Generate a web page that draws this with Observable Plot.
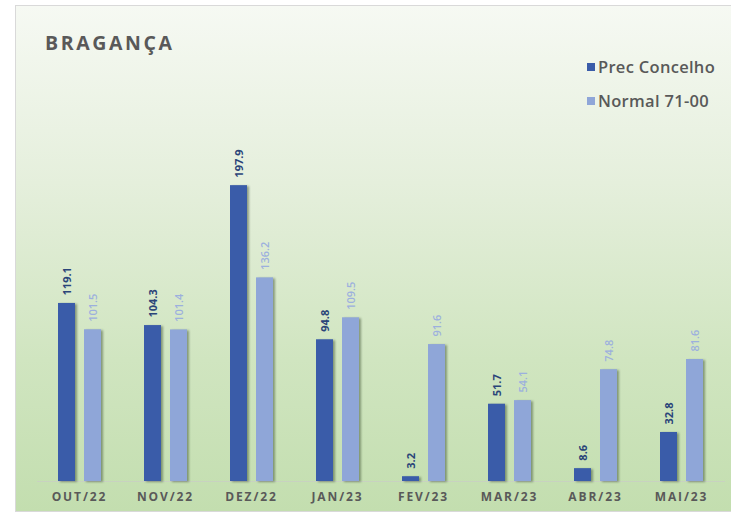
<!DOCTYPE html>
<html>
<head>
<meta charset="utf-8">
<script src="https://cdn.jsdelivr.net/npm/d3@7"></script>
<script src="https://cdn.jsdelivr.net/npm/@observablehq/plot@0.6"></script>
<style>
  body { margin: 0; background: #fff; }
  #wrap { position: relative; width: 731px; height: 514px; overflow: hidden; font-family: "Open Sans", sans-serif; }
  #frame { position: absolute; left: 15px; top: 5px; width: 725px; height: 505px; border: 1px solid #d9d9d9;
    background: linear-gradient(to bottom, #f6f9f3 0%, #e5efdc 35%, #d0e5c0 70%, #c3deaf 100%); }
  #chart { position: absolute; left: 0; top: 0; }
  #chart svg { background: transparent !important; }
  #title { position: absolute; left: 45px; top: 30px; font-size: 19.5px; font-weight: 700; color: #595959; letter-spacing: 2.6px; line-height: 1.3; }
  .leg { position: absolute; left: 587px; font-size: 16.5px; font-weight: 600; color: #595959; display: flex; align-items: center; letter-spacing: 0.3px; line-height: 1.3; }
  .leg span.sw { display: inline-block; width: 8px; height: 8px; margin-right: 3px; }
  g[aria-label="bar"] rect { filter: drop-shadow(2px 1px 1.2px rgba(40,60,30,0.45)); }
  g[aria-label="fx-axis tick label"] text { letter-spacing: 1.9px; }
</style>
</head>
<body>
<div id="wrap">
  <div id="frame"></div>
  <div id="chart"></div>
  <div id="title"></div>
  <div id="legend"></div>
</div>
<script>
const title = "BRAGANÇA";
const months = ["OUT/22","NOV/22","DEZ/22","JAN/23","FEV/23","MAR/23","ABR/23","MAI/23"];
const seriesNames = ["Prec Concelho", "Normal 71-00"];
const prec = [119.1, 104.3, 197.9, 94.8, 3.2, 51.7, 8.6, 32.8];
const normal = [101.5, 101.4, 136.2, 109.5, 91.6, 54.1, 74.8, 81.6];
const barColors = ["#3a5ca9", "#8fa6d8"];
const labelColors = ["#2a4479", "#9cb0de"];

const rows = [];
months.forEach((m, i) => {
  rows.push({month: m, series: seriesNames[0], value: prec[i]});
  rows.push({month: m, series: seriesNames[1], value: normal[i]});
});

document.getElementById("title").textContent = title;
const legend = document.getElementById("legend");
seriesNames.forEach((s, i) => {
  const d = document.createElement("div");
  d.className = "leg";
  d.style.top = (56 + i * 34) + "px";
  d.innerHTML = `<span class="sw" style="background:${barColors[i]}"></span>${s}`;
  legend.appendChild(d);
});

const chart = Plot.plot({
  width: 731,
  height: 514,
  marginLeft: 34,
  marginRight: 4,
  marginTop: 182,
  marginBottom: 33,
  style: {fontFamily: "Open Sans, sans-serif", background: "transparent", overflow: "visible"},
  fx: {domain: months, padding: 0, label: null, axis: null},
  x: {domain: seriesNames, paddingInner: 1/3, paddingOuter: 0.77, axis: null},
  y: {domain: [0, 200], axis: null},
  color: {domain: seriesNames, range: barColors},
  marks: [
    Plot.ruleY([0], {stroke: "#c8d2c0", strokeWidth: 1}),
    Plot.barY(rows, {fx: "month", x: "series", y: "value", fill: "series"}),
    Plot.text(rows.filter(d => d.series === seriesNames[0]), {
      fx: "month", x: "series", y: "value", text: d => d.value.toFixed(1),
      rotate: -90, textAnchor: "start", dy: -8, fill: labelColors[0], fontWeight: "bold", fontSize: 11
    }),
    Plot.text(rows.filter(d => d.series === seriesNames[1]), {
      fx: "month", x: "series", y: "value", text: d => d.value.toFixed(1),
      rotate: -90, textAnchor: "start", dy: -8, fill: labelColors[1], fontWeight: "600", fontSize: 11
    }),
    Plot.axisFx({anchor: "bottom", tickSize: 0, tickPadding: 11, fontSize: 12, fontWeight: "bold", fill: "#595959", label: null, dx: -1})
  ]
});
document.getElementById("chart").appendChild(chart);
</script>
</body>
</html>
